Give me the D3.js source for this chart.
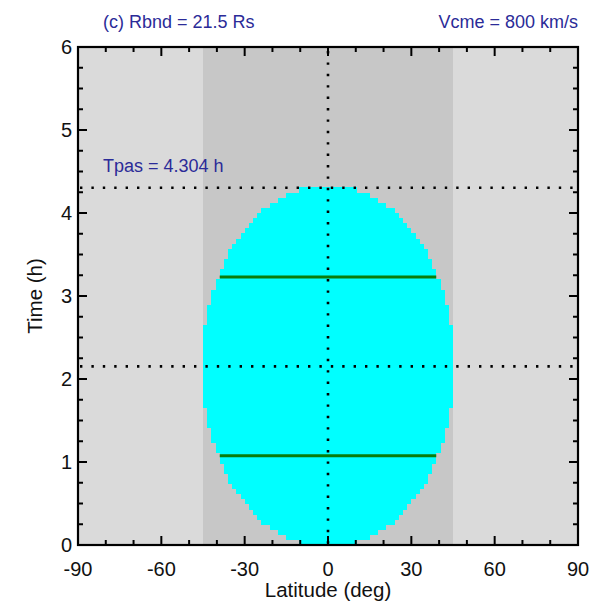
<!DOCTYPE html>
<html><head><meta charset="utf-8">
<script src="https://cdn.jsdelivr.net/npm/d3@7"></script>
<style>body{margin:0;background:#fff;} text{font-family:"Liberation Sans",Arial,Helvetica,sans-serif;}</style>
</head><body>
<svg id="c" width="603" height="603"></svg>
<script>
// ---- data ----
const xTicks = [-90, -60, -30, 0, 30, 60, 90];
const yTicks = [0, 1, 2, 3, 4, 5, 6];
const bandLat = [-45, 45];          // darker band (latitude range)
const tpas = 4.304;                 // passage time (h)
const cmeHalfLat = 45;              // CME half width (deg)
const greenTimes = [tpas * 0.25, tpas * 0.75];
const hLines = [tpas, tpas / 2];
const vLines = [0];
const titleLeft = "(c) Rbnd = 21.5 Rs";
const titleRight = "Vcme = 800 km/s";
const tpasLabel = "Tpas = 4.304 h";

const svg = d3.select("#c");
const L = 78, R = 578, T = 47, B = 545;
const x = d3.scaleLinear().domain([-90, 90]).range([L, R]);
const y = d3.scaleLinear().domain([0, 6]).range([B, T]);
const txtCol = "#2b2b98";

// background
svg.append("rect").attr("x", L).attr("y", T).attr("width", R - L).attr("height", B - T).attr("fill", "#dadada");
svg.append("rect").attr("x", x(bandLat[0])).attr("y", T).attr("width", x(bandLat[1]) - x(bandLat[0])).attr("height", B - T).attr("fill", "#c7c7c7");

// CME region on grid cells (ellipse in lat-time)
const nT = 70, dLat = 1.5;
const dt = tpas / nT, tc = tpas / 2;
const cells = [];
for (let i = 0; i < nT; i++) {
  const t0 = i * dt, t1 = t0 + dt;
  const ti = (t1 <= tc) ? t1 : (t0 >= tc ? t0 : tc);
  const u = (ti - tc) / tc;
  const w = cmeHalfLat * Math.sqrt(Math.max(0, 1 - u * u));
  const n = Math.floor(w / dLat + 0.75);
  const hw = Math.min(cmeHalfLat, n * dLat);
  if (hw > 0) cells.push({t0, t1, hw});
}
svg.append("g").selectAll("rect").data(cells).join("rect")
  .attr("x", d => x(-d.hw)).attr("width", d => x(d.hw) - x(-d.hw))
  .attr("y", d => y(d.t1) - 0.3).attr("height", d => y(d.t0) - y(d.t1) + 0.6)
  .attr("fill", "#00ffff").attr("shape-rendering", "crispEdges");

// green lines
svg.append("g").selectAll("line").data(greenTimes).join("line")
  .attr("x1", t => x(-cmeHalfLat * Math.sqrt(1 - ((t - tc) / tc) ** 2)))
  .attr("x2", t => x(cmeHalfLat * Math.sqrt(1 - ((t - tc) / tc) ** 2)))
  .attr("y1", t => y(t)).attr("y2", t => y(t))
  .attr("stroke", "#0a7d0a").attr("stroke-width", 3);

// dotted lines
svg.append("g").selectAll("line").data(hLines).join("line")
  .attr("x1", L + 2).attr("x2", R).attr("y1", d => y(d)).attr("y2", d => y(d))
  .attr("stroke", "#000").attr("stroke-width", 2.6).attr("stroke-dasharray", "2.4,9");
svg.append("g").selectAll("line").data(vLines).join("line")
  .attr("x1", d => x(d)).attr("x2", d => x(d)).attr("y1", T + 4).attr("y2", B)
  .attr("stroke", "#000").attr("stroke-width", 2.6).attr("stroke-dasharray", "2.4,9");

// axes ticks (inward)
const g = svg.append("g").attr("stroke", "#000").attr("stroke-width", 2);
const xMinor = d3.range(-90, 91, 10);
const yMinor = d3.range(0, 6.001, 0.25);
xMinor.forEach(v => {
  const len = (v % 30 === 0) ? 9 : 5;
  g.append("line").attr("x1", x(v)).attr("x2", x(v)).attr("y1", B).attr("y2", B - len);
  g.append("line").attr("x1", x(v)).attr("x2", x(v)).attr("y1", T).attr("y2", T + len);
});
yMinor.forEach(v => {
  const len = (Math.abs(v - Math.round(v)) < 1e-6) ? 9 : 5;
  g.append("line").attr("x1", L).attr("x2", L + len).attr("y1", y(v)).attr("y2", y(v));
  g.append("line").attr("x1", R).attr("x2", R - len).attr("y1", y(v)).attr("y2", y(v));
});
svg.append("rect").attr("x", L).attr("y", T).attr("width", R - L).attr("height", B - T)
  .attr("fill", "none").attr("stroke", "#000").attr("stroke-width", 2.2);

// tick labels
svg.append("g").selectAll("text").data(xTicks).join("text")
  .attr("x", d => x(d)).attr("y", 576).attr("text-anchor", "middle")
  .attr("font-size", 20).attr("fill", "#111").text(d => d);
svg.append("g").selectAll("text").data(yTicks).join("text")
  .attr("x", 72).attr("y", d => y(d) + 7).attr("text-anchor", "end")
  .attr("font-size", 20).attr("fill", "#111").text(d => d);

// axis titles
svg.append("text").attr("x", x(0)).attr("y", 597).attr("text-anchor", "middle")
  .attr("font-size", 20.5).attr("fill", "#111").text("Latitude (deg)");
svg.append("text").attr("transform", `translate(42,${(T + B) / 2}) rotate(-90)`)
  .attr("text-anchor", "middle").attr("font-size", 20.5).attr("fill", "#111").text("Time (h)");

// titles
svg.append("text").attr("x", 103).attr("y", 28).attr("font-size", 18).attr("fill", txtCol).text(titleLeft);
svg.append("text").attr("x", 578).attr("y", 28).attr("text-anchor", "end").attr("font-size", 18).attr("fill", txtCol).text(titleRight);
svg.append("text").attr("x", 103).attr("y", 172).attr("font-size", 18).attr("fill", txtCol).text(tpasLabel);
</script>
</body></html>
